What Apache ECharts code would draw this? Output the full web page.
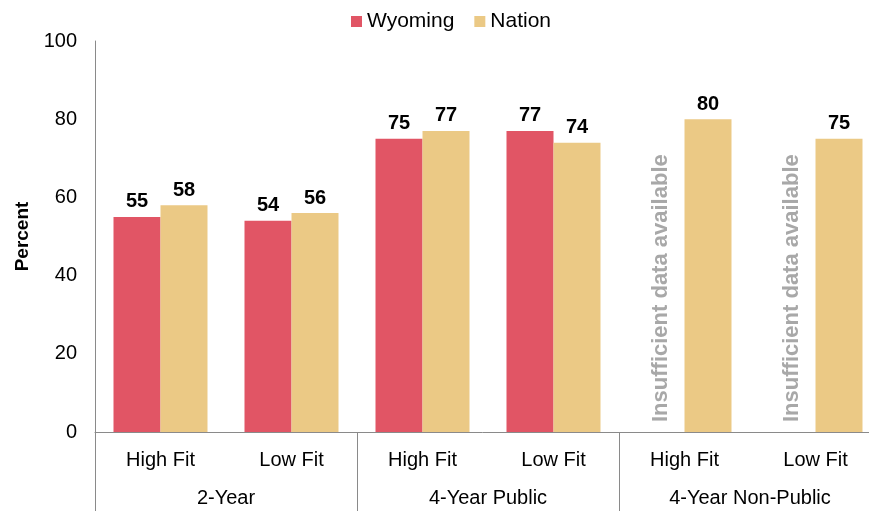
<!DOCTYPE html>
<html lang="en">

<head>
    <meta charset="UTF-8">
    <title>Fit by sector</title>
    <style>
        html, body { margin: 0; padding: 0; background: #fff; }
        #chart { width: 869px; height: 511px; }
    </style>
</head>

<body>
    <div id="chart"></div>
    <script src="https://cdn.jsdelivr.net/npm/echarts@6/dist/echarts.min.js"></script>
    <script>
        // data
        const fits = ['High Fit', 'Low Fit', 'High Fit', 'Low Fit', 'High Fit', 'Low Fit']
        const sectors = ['2-Year', '4-Year Public', '4-Year Non-Public']
        const wyoming = [55, 54, 75, 77, null, null]   // null = no data
        const nation = [58, 56, 77, 74, 80, 75]
        const yTicks = { min: 0, max: 100, interval: 20 }
        const noDataText = 'Insufficient data available'

        const font = 'Liberation Sans, Arial, Helvetica, sans-serif'
        const axisGray = '#8a8a8a'

        const valueLabel = {
            show: true,
            position: 'top',
            distance: 5,
            color: '#000',
            fontSize: 20,
            fontWeight: 'bold',
            fontFamily: font
        }

        // missing Wyoming values become an empty bar carrying the grey note
        const wyomingData = wyoming.map(v => v == null ? {
            value: 0,
            label: {
                show: true,
                formatter: noDataText,
                position: 'insideBottom',
                rotate: 90,
                align: 'left',
                verticalAlign: 'middle',
                distance: 10,
                color: '#a8a8a8',
                fontSize: 22,
                fontWeight: 'bold',
                fontFamily: font
            }
        } : v)

        const chart = echarts.init(document.getElementById('chart'))

        chart.setOption({
            animation: false,
            textStyle: { fontFamily: font },
            legend: {
                top: 6,
                left: 346,
                itemWidth: 11,
                itemHeight: 11,
                itemGap: 20,
                icon: 'rect',
                textStyle: { fontSize: 21, color: '#000', fontFamily: font },
                data: ['Wyoming', 'Nation']
            },
            // the last category runs a little past the right edge of the picture
            grid: { left: 95, right: -12, top: 41, bottom: 79, containLabel: false, outerBoundsMode: 'none' },
            xAxis: [
                {
                    type: 'category',
                    data: fits,
                    axisLine: { show: true, lineStyle: { color: axisGray, width: 1 } },
                    axisTick: { show: false },
                    axisLabel: { interval: 0, margin: 18, fontSize: 20, color: '#000', fontFamily: font }
                },
                {
                    type: 'category',
                    data: sectors,
                    position: 'bottom',
                    axisLine: { show: false },
                    axisTick: { show: true, interval: 0, length: 80, lineStyle: { color: axisGray, width: 1 } },
                    axisLabel: { interval: 0, margin: 56, fontSize: 20, color: '#000', fontFamily: font }
                }
            ],
            yAxis: {
                type: 'value',
                min: yTicks.min,
                max: yTicks.max,
                interval: yTicks.interval,
                name: 'Percent',
                nameLocation: 'middle',
                nameGap: 58,
                nameTextStyle: { fontSize: 19, fontWeight: 'bold', color: '#000', fontFamily: font },
                axisLine: { show: true, lineStyle: { color: axisGray, width: 1 } },
                axisTick: { show: false },
                splitLine: { show: false },
                axisLabel: { margin: 18, fontSize: 20, color: '#000', fontFamily: font }
            },
            series: [
                {
                    name: 'Wyoming',
                    type: 'bar',
                    data: wyomingData,
                    barWidth: 47,
                    barGap: '0%',
                    itemStyle: { color: '#e15565' },
                    label: valueLabel
                },
                {
                    name: 'Nation',
                    type: 'bar',
                    data: nation,
                    barWidth: 47,
                    barGap: '0%',
                    itemStyle: { color: '#ebc985' },
                    label: valueLabel
                }
            ]
        })
    </script>
</body>

</html>
